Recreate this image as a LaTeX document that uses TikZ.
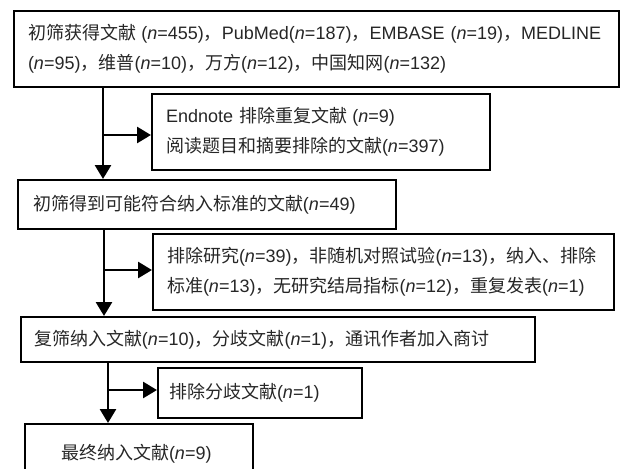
\documentclass[tikz,border=0pt]{standalone}
\usepackage{fontspec}
\setmainfont{Liberation Sans}
\newfontfamily\zhfont{Noto Sans CJK SC}
\newcommand\zh[1]{{\zhfont #1}}
\newcommand\vn{\textit{n}}
\usetikzlibrary{arrows.meta}
\begin{document}
\begin{tikzpicture}[x=0.75pt,y=-0.75pt,
  box/.style={draw=black,line width=1.5pt,anchor=north west,align=left,
    inner ysep=0pt,text=black!85,
    font=\fontsize{13.5pt}{22.5pt}\selectfont},
  flow/.style={line width=2pt,-{Triangle[length=10.5pt,width=12pt]}}]
\useasboundingbox (0,0) rectangle (621,468);

\node[box,inner xsep=10.5pt,text width=432.75pt,minimum height=57pt] (b1) at (13,10)
  {\mbox{\zh{初筛获得文献}\hspace{0.3em}(\vn=455)\zh{，}PubMed(\vn=187)\zh{，}EMBASE (\vn=19)\zh{，}MEDLINE}\\
   \mbox{(\vn=95)\zh{，维普}(\vn=10)\zh{，万方}(\vn=12)\zh{，中国知网}(\vn=132)}};

\node[box,inner xsep=10.5pt,text width=232.5pt,minimum height=57pt] (b2) at (151,93)
  {\mbox{Endnote \zh{排除重复文献}\hspace{0.3em}(\vn=9)}\\
   \mbox{\zh{阅读题目和摘要排除的文献}(\vn=397)}};

\node[box,inner xsep=11.25pt,text width=261pt,minimum height=36.75pt] (b3) at (17,179)
  {\mbox{\zh{初筛得到可能符合纳入标准的文献}(\vn=49)}};

\node[box,inner xsep=10.5pt,text width=324.75pt,minimum height=57pt] (b5) at (152,233)
  {\mbox{\zh{排除研究}(\vn=39)\zh{，非随机对照试验}(\vn=13)\zh{，纳入、排除}}\\
   \mbox{\zh{标准}(\vn=13)\zh{，无研究结局指标}(\vn=12)\zh{，重复发表}(\vn=1)}};

\node[box,inner xsep=9.75pt,text width=366pt,minimum height=33.75pt] (b4) at (20,316)
  {\mbox{\zh{复筛纳入文献}(\vn=10)\zh{，分歧文献}(\vn=1)\zh{，通讯作者加入商讨}}};

\node[box,inner xsep=8.25pt,text width=136.5pt,minimum height=37.5pt] (b6) at (157,367)
  {\mbox{\zh{排除分歧文献}(\vn=1)}};

\node[box,inner xsep=27pt,text width=117pt,minimum height=45pt] (b7) at (24,423)
  {\mbox{\zh{最终纳入文献}(\vn=9)}};

\coordinate (v1) at (103,0);
\coordinate (v2) at (104,0);
\coordinate (v3) at (108,0);
\coordinate (j1) at (103,135);
\coordinate (j2) at (104,270);
\coordinate (j3) at (108,390);

\draw[flow] (b1.south -| v1) -- (b3.north -| v1);
\draw[flow] (j1) -- (j1 -| b2.west);
\draw[flow] (b3.south -| v2) -- (b4.north -| v2);
\draw[flow] (j2) -- (j2 -| b5.west);
\draw[flow] (b4.south -| v3) -- (b7.north -| v3);
\draw[flow] (j3) -- (j3 -| b6.west);
\end{tikzpicture}
\end{document}
